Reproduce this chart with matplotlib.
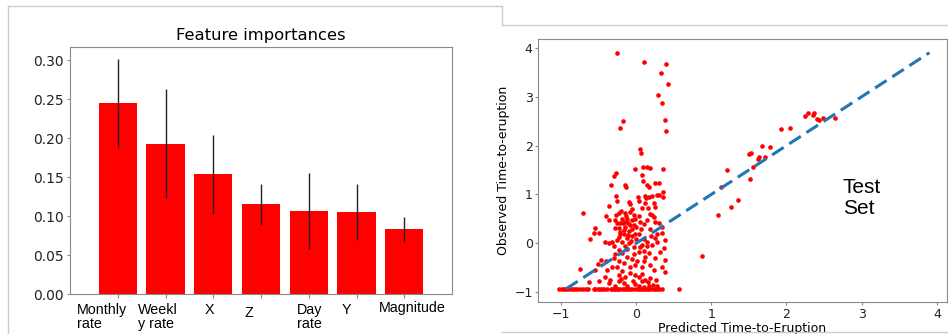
import numpy as np
import matplotlib
matplotlib.use("Agg")
import matplotlib.pyplot as plt
from matplotlib.lines import Line2D

# left panel: feature importances
features = ["Monthly\nrate", "Weekl\ny rate", "X", "Z", "Day\nrate", "Y", "Magnitude"]
importances = [0.245, 0.193, 0.1535, 0.115, 0.1064, 0.1055, 0.083]
std = [0.057, 0.070, 0.051, 0.026, 0.049, 0.036, 0.016]

# right panel: predicted vs observed time-to-eruption (test set)
pred = [-0.26, 0.10, 0.40, 0.335, 0.43, 0.295, 0.34, -0.17, 0.38, -0.22, 0.40,
        0.056, 0.06, -0.02, 0.096, 0.14, 0.185, 0.36, -0.27, -0.29, 0.078, 0.087,
        -0.34, -0.15, -0.13, 0.145, 0.167, 0.25, 0.31, 0.357, 0.36,
        -0.263, -0.365, -0.25, -0.10, -0.077, 0.025, 0.034, 0.113, 0.136, 0.167,
        0.211, 0.278, 0.309, 0.233, 0.256, 0.122, 0.158, 0.078, -0.055, -0.197,
        -0.232, -0.077, -0.033, 0.034, -0.011, 0.056, -0.121, -0.152, -0.277,
        -0.254, -0.21, -0.179, -0.108, -0.077, -0.033, -0.144, -0.232, -0.277,
        -0.365, -0.40, -0.551, -0.498, -0.565, -0.609, 0.189, 0.211, 0.255,
        0.233, 0.30, 0.344, 0.344, 0.388, 0.277, 0.255, 0.277, 0.211, 0.145,
        0.10, 0.078, 0.034, -0.011, -0.055, -0.108, -0.166, -0.21, -0.232,
        -0.254, -0.188, -0.321, -0.365, -0.41, -0.099, -0.144, -0.033, -0.232,
        -0.188, -0.277, -0.121, -0.033, 0.034, 0.10, 0.167, 0.122, 0.10, 0.012,
        -0.02, -0.077, -0.166, -0.232, -0.254, -0.321, -0.388, -0.40, -0.463,
        -0.507, -0.543, -0.188, -0.232, -0.144, -0.077, -0.011, 0.034, 0.078,
        0.122, 0.189, 0.233, 0.322, 0.366, 0.388, 0.344, 0.269, 0.158, 0.078,
        0.388, -0.41, -0.343, -0.232, -0.166, -0.046, -0.011, -0.63, -0.498,
        -0.365, -0.121, 0.034, 0.167,
        -0.19, -0.13, -0.06, -0.16, -0.10, -0.05, 0.0, -0.22, -0.12, -0.07, 0.0,
        -0.27, -0.15, 0.06, 0.10, 0.14, 0.18, 0.20, -0.29, 0.05, 0.15, -0.05,
        0.08, 0.18, 0.25, -0.30, -0.12, 0.22, 0.28, -0.28, -0.20, 0.10,
        -0.70, -0.74,
        0.87, 1.09, 1.26, 1.36, 1.13, 1.21, 1.52, 1.55, 1.50, 1.53, 1.63, 1.62,
        1.71, 1.68, 1.78, 1.93, 2.04, 2.24, 2.29, 2.35, 2.37, 2.41, 2.43, 2.48, 2.65]
obs = [3.90, 3.70, 3.67, 3.48, 3.26, 3.03, 2.87, 2.50, 2.52, 2.36, 2.30,
       1.93, 1.85, 1.53, 1.56, 1.57, 1.55, 1.53, 1.44, 1.37, 1.39, 1.27,
       1.20, 1.19, 1.15, 1.19, 1.15, 1.24, 1.24, 1.04, 0.94,
       0.97, 0.77, 0.87, 0.85, 0.80, 0.95, 0.87, 0.97, 0.92, 0.95,
       0.97, 0.99, 0.99, 0.82, 0.75, 0.82, 0.72, 0.72, 0.70, 0.67,
       0.63, 0.65, 0.58, 0.56, 0.49, 0.44, 0.49, 0.44, 0.48,
       0.41, 0.42, 0.41, 0.42, 0.37, 0.37, 0.33, 0.31, 0.32,
       0.48, 0.55, 0.31, 0.22, 0.22, 0.08, 0.61, 0.58, 0.44,
       0.53, 0.41, 0.34, 0.22, 0.07, 0.20, 0.10, 0.03, -0.03, 0.03,
       0.08, -0.03, 0.20, 0.20, 0.14, 0.17, 0.20, 0.20, 0.12,
       0.07, 0.03, 0.03, 0.01, 0.03, 0.0, -0.05, -0.07, -0.14,
       -0.19, -0.22, -0.27, -0.22, -0.17, -0.15, -0.19, -0.27, -0.37, -0.37,
       -0.44, -0.49, -0.41, -0.37, -0.49, -0.49, -0.55, -0.37, -0.34,
       -0.42, -0.55, -0.56, -0.65, -0.68, -0.61, -0.65, -0.68, -0.63,
       -0.75, -0.70, -0.55, -0.17, -0.10, -0.34, -0.48, -0.75, -0.80, -0.78,
       -0.58, -0.68, -0.75, -0.78, -0.82, -0.78, -0.83, -0.79, -0.78,
       -0.82, -0.87, -0.87, -0.87,
       0.50, 0.55, 0.47, 0.28, 0.26, 0.29, 0.33, 0.24, 0.10, 0.05, 0.08,
       0.58, 0.62, 0.30, 0.40, 0.48, 0.30, 0.15, -0.05, -0.08, -0.05, -0.32,
       -0.48, -0.45, -0.30, -0.30, -0.12, -0.85, -0.88, -0.87, -0.72, -0.90,
       0.63, -0.53,
       -0.26, 0.58, 0.74, 0.89, 1.16, 1.50, 1.31, 1.57, 1.83, 1.85, 1.77, 1.72,
       1.77, 2.00, 1.98, 2.34, 2.36, 2.60, 2.67, 2.62, 2.66, 2.54, 2.52, 2.57, 2.56]
# many test samples sit on the floor value
pred_floor = [-1.03, -0.99, -0.96, -0.93, -0.90, -0.87, -0.84, -0.81, -0.78, -0.74,
              -0.70, -0.66, -0.64, -0.565, -0.54, -0.51, -0.48, -0.45, -0.43, -0.39,
              -0.34, -0.32, -0.30, -0.28, -0.26, -0.24, -0.21, -0.18, -0.16, -0.14,
              -0.11, -0.08, -0.05, -0.01, 0.02, 0.04, 0.06, 0.09, 0.12, 0.14, 0.16,
              0.19, 0.23, 0.25, 0.28, 0.31, 0.35, 0.57]
obs_floor = [-0.93] * len(pred_floor)

fig = plt.figure(figsize=(9.48, 3.34), dpi=100)

# screenshot frames
frame = "#cccccc"
W, H = 948.0, 334.0
for xs, ys in [([8, 8], [334, 6]), ([8, 502], [6, 6]), ([502, 502], [6, 25]),
               ([502, 948], [25, 25]), ([502, 948], [332, 332])]:
    fig.add_artist(Line2D([x / W for x in xs], [1 - y / H for y in ys],
                          color=frame, lw=1))

spine_c = "#8a8a8a"

# ---- left: bar chart
ax1 = fig.add_axes([70 / W, 1 - 294 / H, 382 / W, 247 / H])
idx = np.arange(len(features))
ax1.bar(idx, importances, color="red", yerr=std, align="center",
        error_kw=dict(ecolor="#222222", elinewidth=1, capsize=0))
ax1.set_xlim(-1, len(features))
ax1.set_ylim(0, 0.317)
ax1.set_yticks([0, 0.05, 0.10, 0.15, 0.20, 0.25, 0.30])
ax1.set_yticklabels(["0.00", "0.05", "0.10", "0.15", "0.20", "0.25", "0.30"])
ax1.tick_params(axis="y", labelsize=10, colors="#222222", color=spine_c,
                length=2.5, pad=2)
ax1.set_xticks(idx)
ax1.set_xticklabels([])
ax1.tick_params(axis="x", color=spine_c, length=3)
ax1.set_title("Feature importances", fontsize=11.8, pad=5)
for s in ax1.spines.values():
    s.set_color(spine_c)

# hand-placed category labels (as in the source slide)
lab_x = [-0.86, 0.42, 1.93, 2.75, 3.76, 4.79, 6.17]
lab_ha = ["left", "left", "center", "center", "left", "center", "center"]
lab_y = [-0.035, -0.035, -0.035, -0.05, -0.035, -0.035, -0.03]
tr = ax1.get_xaxis_transform()
for name, lx, ly, ha in zip(features, lab_x, lab_y, lab_ha):
    ax1.text(lx, ly, name, transform=tr, ha=ha, va="top", fontsize=10.3,
             family="Liberation Sans", linespacing=1.05, multialignment="left")

# ---- right: scatter
ax2 = fig.add_axes([538.3 / W, 1 - 302 / H, 408.4 / W, 263 / H])
px = pred + pred_floor
oy = obs + obs_floor
ax2.scatter(px, oy, marker="o", s=11, color="red", linewidths=0)
lims = [min(oy), max(oy)]
ax2.plot(lims, lims, "--", color="#1f77b4", lw=2.2, dashes=(4.5, 2.2))
ax2.set_xlim(-1.3, 4.13)
ax2.set_ylim(-1.2, 4.18)
ax2.set_xticks([-1, 0, 1, 2, 3, 4])
ax2.set_yticks([-1, 0, 1, 2, 3, 4])
ax2.tick_params(labelsize=9, color=spine_c, colors="#222222", length=2.5, pad=1.5)
ax2.set_xlabel("Predicted Time-to-Eruption", fontsize=9, labelpad=1)
ax2.set_ylabel("Observed Time-to-eruption", fontsize=9, labelpad=3)
for s in ax2.spines.values():
    s.set_color(spine_c)
ax2.text(2.75, 0.93, "Test\nSet", fontsize=15, family="Liberation Sans",
         va="center", ha="left", linespacing=1.1)

fig.savefig("out.png", dpi=100)
